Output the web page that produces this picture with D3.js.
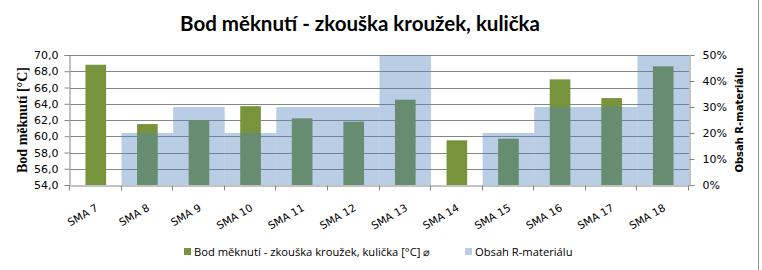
<!DOCTYPE html>
<html lang="cs">
<head>
<meta charset="UTF-8">
<title>Bod měknutí</title>
<style>
  body { margin: 0; background: #fff; }
  svg { display: block; }
</style>
</head>
<body>
<div id="main"></div>
<script src="https://cdn.jsdelivr.net/npm/d3@7/dist/d3.min.js"></script>
<script>
  // data
  const categories = ["SMA 7", "SMA 8", "SMA 9", "SMA 10", "SMA 11", "SMA 12",
                      "SMA 13", "SMA 14", "SMA 15", "SMA 16", "SMA 17", "SMA 18"];
  const softening = [68.8, 61.5, 62.0, 63.7, 62.2, 61.8, 64.5, 59.5, 59.7, 67.0, 64.7, 68.6];
  const rShare = [0, 0.2, 0.3, 0.2, 0.3, 0.3, 0.5, 0, 0.2, 0.3, 0.3, 0.5];
  const leftTicks = [54, 56, 58, 60, 62, 64, 66, 68, 70];
  const rightTicks = [0, 0.1, 0.2, 0.3, 0.4, 0.5];

  const title = "Bod měknutí - zkouška kroužek, kulička";
  const leftTitle = "Bod měknutí [°C]";
  const rightTitle = "Obsah R-materiálu";
  const legendNames = ["Bod měknutí - zkouška kroužek, kulička [°C] ⌀", "Obsah R-materiálu"];

  const W = 762, H = 270;
  const plot = { left: 70, right: 689, top: 55, bottom: 185 };
  const green = "#77933C", blue = "#4F81BD", gridCol = "#868686";

  const svg = d3.select("#main").append("svg")
    .attr("width", W).attr("height", H)
    .style("font-family", "'DejaVu Sans', sans-serif");

  const x = d3.scaleBand().domain(categories).range([plot.left, plot.right]);
  const yL = d3.scaleLinear().domain([54, 70]).range([plot.bottom, plot.top]);
  const yR = d3.scaleLinear().domain([0, 0.5]).range([plot.bottom, plot.top]);

  // gridlines
  svg.append("g").selectAll("line").data(leftTicks.slice(1)).join("line")
    .attr("x1", plot.left).attr("x2", plot.right)
    .attr("y1", d => Math.round(yL(d)) + 0.5).attr("y2", d => Math.round(yL(d)) + 0.5)
    .attr("stroke", gridCol).attr("stroke-width", 1);

  // green bars (primary axis, gap 150%)
  const bw = x.bandwidth() * 0.4;
  svg.append("g").selectAll("rect").data(softening).join("rect")
    .attr("x", (d, i) => x(categories[i]) + (x.bandwidth() - bw) / 2)
    .attr("width", bw)
    .attr("y", d => yL(d))
    .attr("height", d => yL(54) - yL(d))
    .attr("fill", green);

  // blue bars (secondary axis, no gap, transparent)
  svg.append("g").selectAll("rect").data(rShare).join("rect")
    .attr("x", (d, i) => x(categories[i]))
    .attr("width", x.bandwidth())
    .attr("y", d => yR(d))
    .attr("height", d => yR(0) - yR(d))
    .attr("fill", blue).attr("fill-opacity", 0.4);

  // left axis
  const axL = svg.append("g").attr("transform", `translate(${plot.left - 0.5},0)`)
    .call(d3.axisLeft(yL).tickValues(leftTicks).tickSize(5).tickPadding(6)
      .tickFormat(d => d3.format(".1f")(d).replace(".", ",")));
  // right axis
  const axR = svg.append("g").attr("transform", `translate(${plot.right + 0.5},0)`)
    .call(d3.axisRight(yR).tickValues(rightTicks).tickSize(5).tickPadding(8)
      .tickFormat(d3.format(".0%")));
  // bottom axis: ticks at category boundaries
  const axB = svg.append("g").attr("transform", `translate(0,${plot.bottom + 0.5})`)
    .call(d3.axisBottom(x).tickSize(0).tickFormat(""));
  axB.selectAll(".tick").remove();
  axB.append("g").selectAll("line").data(d3.range(categories.length + 1)).join("line")
    .attr("x1", i => Math.round(plot.left + i * x.step()) - 0.5)
    .attr("x2", i => Math.round(plot.left + i * x.step()) - 0.5)
    .attr("y1", 0).attr("y2", 5).attr("stroke", gridCol);

  [axL, axR, axB].forEach(a => {
    a.select(".domain").attr("stroke", gridCol);
    a.selectAll(".tick line").attr("stroke", gridCol);
    a.selectAll("text").attr("fill", "#000").style("font-size", "11px")
      .style("font-family", "'DejaVu Sans', sans-serif");
  });

  // category labels, rotated
  svg.append("g").selectAll("text").data(categories).join("text")
    .attr("transform", d => `translate(${x(d) + x.bandwidth() / 2 + 3},${plot.bottom + 25}) rotate(-30)`)
    .attr("text-anchor", "end")
    .style("font-size", "10.5px")
    .text(d => d);

  // title
  svg.append("text")
    .attr("x", 360).attr("y", 31)
    .attr("text-anchor", "middle")
    .style("font-family", "Lato, sans-serif")
    .style("font-weight", "bold").style("font-size", "20.5px")
    .text(title);

  // axis titles
  svg.append("text")
    .attr("transform", `translate(27,${(plot.top + plot.bottom) / 2}) rotate(-90)`)
    .attr("text-anchor", "middle")
    .style("font-family", "'Liberation Serif', serif")
    .style("font-weight", "bold").style("font-size", "14px")
    .text(leftTitle);
  svg.append("text")
    .attr("transform", `translate(743,${(plot.top + plot.bottom) / 2}) rotate(-90)`)
    .attr("text-anchor", "middle")
    .style("font-weight", "bold").style("font-size", "10px")
    .text(rightTitle);

  // legend
  const legX = [184, 465];
  const leg = svg.append("g").selectAll("g").data(legendNames).join("g")
    .attr("transform", (d, i) => `translate(${legX[i]},248)`);
  leg.append("rect").attr("width", 7).attr("height", 7)
    .attr("fill", (d, i) => i === 0 ? green : blue)
    .attr("fill-opacity", (d, i) => i === 0 ? 1 : 0.4);
  leg.append("text").attr("x", 10).attr("y", 7.5)
    .style("font-family", "'Open Sans', sans-serif").style("font-size", "11.2px")
    .text(d => d);

  // chart frame edge
  svg.append("line").attr("x1", W - 3.5).attr("x2", W - 3.5).attr("y1", 0).attr("y2", H)
    .attr("stroke", "#9a9a9a");
</script>
</body>
</html>
